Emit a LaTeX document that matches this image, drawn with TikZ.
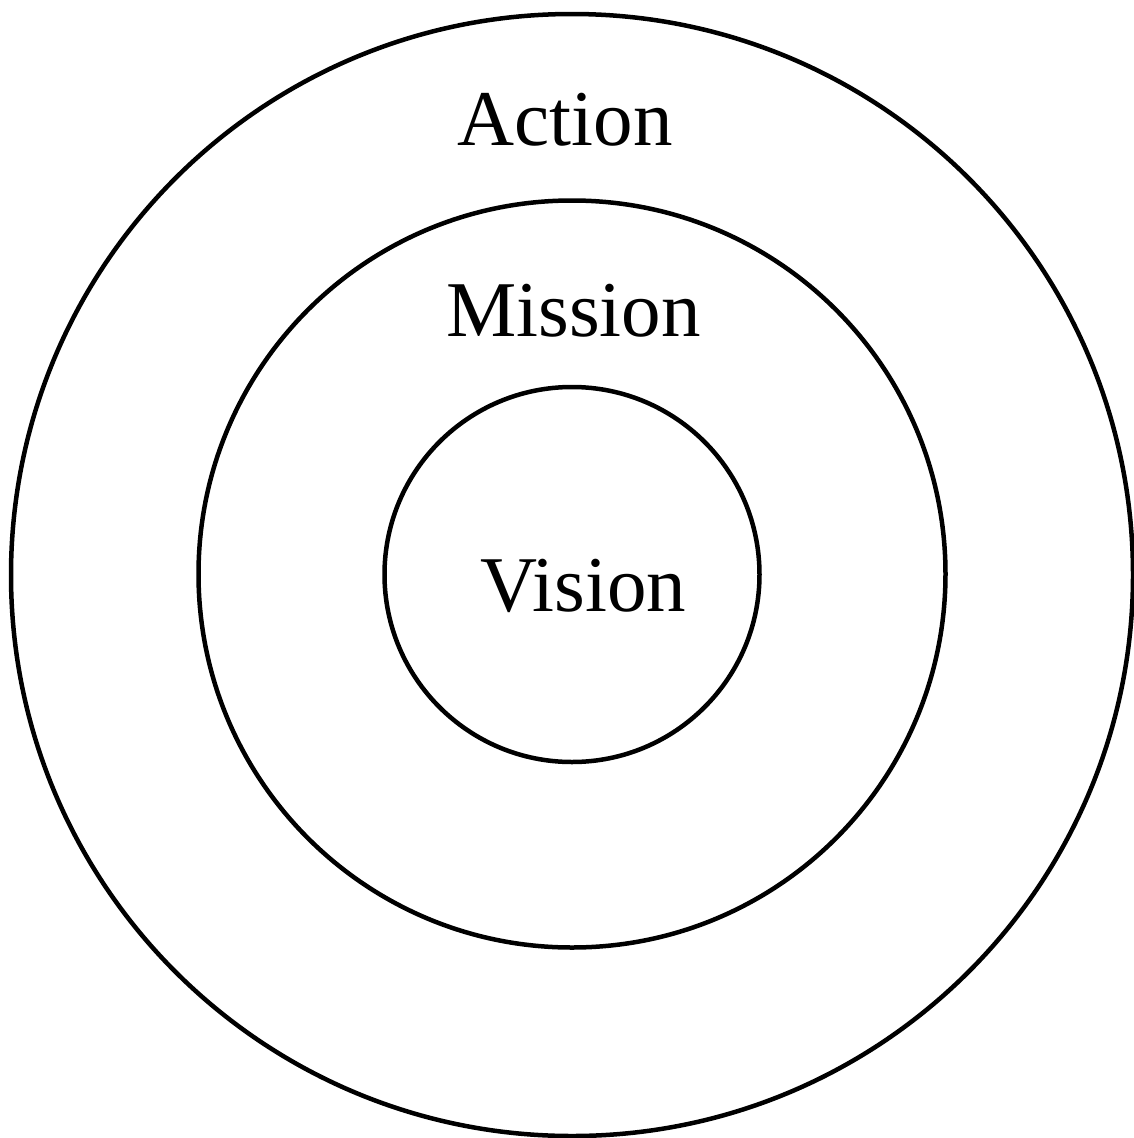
\documentclass[tikz,border=0pt]{standalone}
\usepackage{fontspec}
\setmainfont{Liberation Serif}
\begin{document}
\begin{tikzpicture}[x=1pt,y=-1pt,
  ring/.style={circle,draw=black,line width=4.5pt,inner sep=0pt},
  lbl/.style={anchor=base,inner sep=0pt,font=\fontsize{79}{88}\selectfont}]
\useasboundingbox (0,0) rectangle (1134,1138);
\node[ring,minimum size=1122pt] (outer) at (572,575) {};
\node[ring,minimum size=747pt] (middle) at (572,574) {};
\node[ring,minimum size=375pt] (inner) at (572,574.5) {};
\node[lbl] (action) at (565,145) {Action};
\node[lbl] (mission) at (573.5,336) {Mission};
\node[lbl] (vision) at (583.5,611) {Vision};
\end{tikzpicture}
\end{document}
